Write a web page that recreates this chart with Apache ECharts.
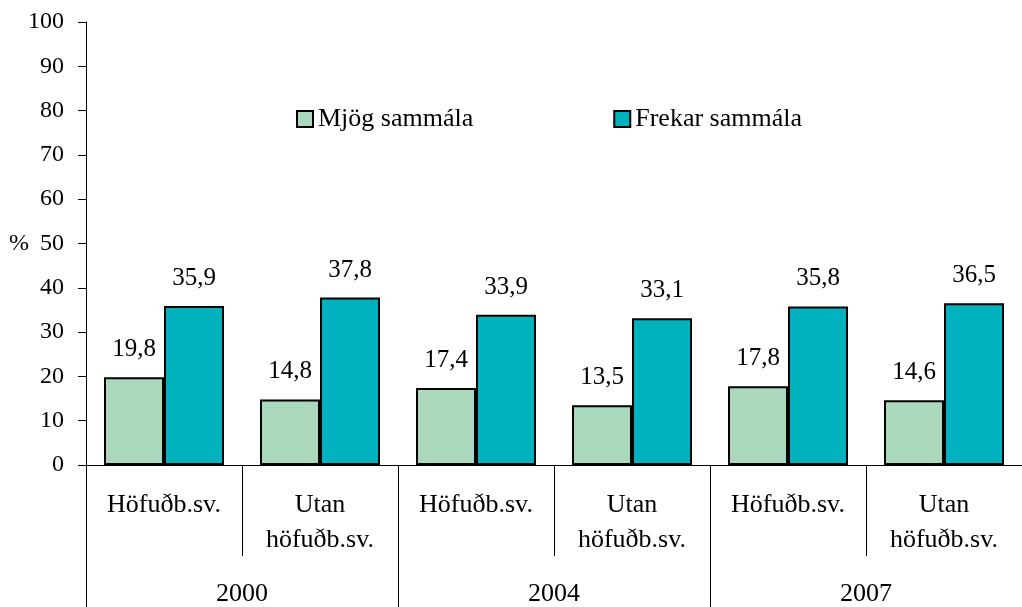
<!DOCTYPE html>
<html>
<head>
<meta charset="utf-8">
<script src="https://cdn.jsdelivr.net/npm/echarts@6/dist/echarts.min.js"></script>
<style>
html, body { margin: 0; padding: 0; background: #fff; }
#chart { width: 1022px; height: 607px; }
</style>
</head>
<body>
<div id="chart"></div>
<script>
// gögn lesin af myndinni
const categories = ['Höfuðb.sv.', 'Utan\nhöfuðb.sv.', 'Höfuðb.sv.', 'Utan\nhöfuðb.sv.', 'Höfuðb.sv.', 'Utan\nhöfuðb.sv.']
const years = ['2000', '2004', '2007']
const mjogSammala = [19.8, 14.8, 17.4, 13.5, 17.8, 14.6]
const frekarSammala = [35.9, 37.8, 33.9, 33.1, 35.8, 36.5]
const yTicks = { min: 0, max: 100, interval: 10 }

const font = '"Liberation Serif", "Times New Roman", serif'
const comma = function (p) { return String(p.value).replace('.', ',') }

const myChart = echarts.init(document.getElementById('chart'))

const options = {
  animation: false,
  textStyle: { fontFamily: font, color: '#000' },
  grid: {
    left: 86,
    right: 0,
    top: 22,
    bottom: 142
  },
  legend: {
    left: 296,
    top: 106,
    padding: 0,
    itemWidth: 16,
    itemHeight: 16,
    itemGap: 140,
    icon: 'rect',
    textStyle: { fontFamily: font, fontSize: 26, color: '#000' },
    data: ['Mjög sammála', 'Frekar sammála']
  },
  xAxis: [{
    type: 'category',
    data: categories,
    position: 'bottom',
    axisLine: { lineStyle: { color: '#000', width: 1 } },
    axisTick: { show: true, interval: 0, length: 91, lineStyle: { color: '#000' } },
    axisLabel: {
      interval: 0,
      margin: 23,
      fontFamily: font,
      fontSize: 26,
      lineHeight: 35,
      color: '#000'
    }
  }, {
    type: 'category',
    data: years,
    position: 'bottom',
    axisLine: { show: false },
    axisTick: { show: true, interval: 0, length: 142, lineStyle: { color: '#000' } },
    axisLabel: {
      interval: 0,
      margin: 116,
      fontFamily: font,
      fontSize: 26,
      color: '#000'
    }
  }],
  yAxis: {
    type: 'value',
    min: yTicks.min,
    max: yTicks.max,
    interval: yTicks.interval,
    name: '%',
    nameLocation: 'middle',
    nameRotate: 0,
    nameGap: 57,
    nameMoveOverlap: false,
    nameTextStyle: { fontFamily: font, fontSize: 24, color: '#000', padding: [0, 0, 6, 0] },
    axisLine: { show: true, lineStyle: { color: '#000', width: 1 } },
    axisTick: { show: true, length: 8, lineStyle: { color: '#000' } },
    splitLine: { show: false },
    axisLabel: { margin: 22, fontFamily: font, fontSize: 24, color: '#000' }
  },
  series: [{
    name: 'Mjög sammála',
    type: 'bar',
    xAxisIndex: 0,
    data: mjogSammala,
    barWidth: 60,
    barGap: '0%',
    itemStyle: { color: '#a9d8bc', borderColor: '#000', borderWidth: 2 },
    label: {
      show: true,
      position: 'top',
      distance: 15,
      fontFamily: font,
      fontSize: 25,
      color: '#000',
      formatter: comma
    }
  }, {
    name: 'Frekar sammála',
    type: 'bar',
    xAxisIndex: 0,
    data: frekarSammala,
    barWidth: 60,
    barGap: '0%',
    itemStyle: { color: '#00b1be', borderColor: '#000', borderWidth: 2 },
    label: {
      show: true,
      position: 'top',
      distance: 15,
      fontFamily: font,
      fontSize: 25,
      color: '#000',
      formatter: comma
    }
  }]
}

myChart.setOption(options)
</script>
</body>
</html>
